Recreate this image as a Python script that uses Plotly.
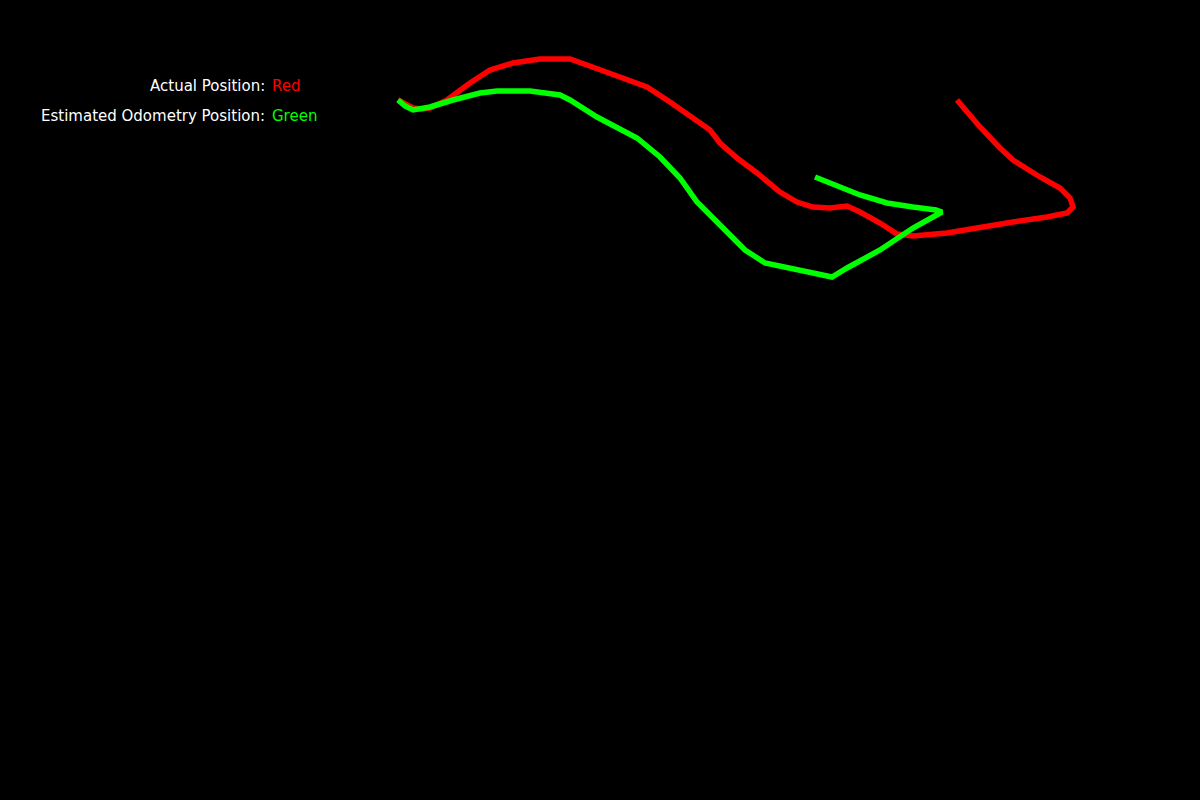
import plotly.graph_objects as go

# Actual position trajectory (red), image coordinates
actual_x = [398, 405, 413, 422, 430, 447, 470, 490, 513, 540, 570, 587, 613, 647, 670, 697, 710, 720,
            737, 757, 780, 797, 813, 830, 847, 860, 880, 897, 913, 947, 980, 1013, 1047, 1067, 1073,
            1070, 1060, 1040, 1013, 1000, 980, 957]
actual_y = [100, 104, 108, 109, 108, 100, 83, 70, 63, 59, 59, 65, 75, 87, 102, 120, 130, 143,
            158, 173, 192, 202, 207, 208, 206, 212, 223, 234, 236, 233, 227, 222, 217, 213, 207,
            198, 188, 177, 160, 148, 127, 100]

# Estimated odometry trajectory (green)
odom_x = [398, 405, 413, 430, 453, 480, 497, 530, 560, 570, 597, 637, 660, 680, 697, 720, 745, 765,
          795, 813, 832, 847, 880, 913, 942, 936, 913, 887, 860, 833, 815]
odom_y = [100, 106, 110, 107, 100, 93, 91, 91, 95, 100, 117, 138, 157, 178, 202, 225, 250, 263,
          270, 273, 277, 268, 250, 228, 212, 210, 207, 203, 195, 185, 177]

labels = ["Actual Position:", "Estimated Odometry Position:"]
label_colors = ["Red", "Green"]
label_hex = ["#ff0000", "#00ff00"]
label_y = [86, 116]

fig = go.Figure()
fig.add_trace(go.Scatter(x=actual_x, y=actual_y, mode="lines",
                         line=dict(color="#ff0000", width=5.5), hoverinfo="skip"))
fig.add_trace(go.Scatter(x=odom_x, y=odom_y, mode="lines",
                         line=dict(color="#00ff00", width=5.5), hoverinfo="skip"))

for txt, ctxt, col, yy in zip(labels, label_colors, label_hex, label_y):
    fig.add_annotation(x=267, y=yy, text=txt, showarrow=False, xanchor="right",
                       yanchor="middle", font=dict(family="DejaVu Sans", size=15, color="white"))
    fig.add_annotation(x=270, y=yy, text=ctxt, showarrow=False, xanchor="left",
                       yanchor="middle", font=dict(family="DejaVu Sans", size=15, color=col))

fig.update_layout(
    width=1200, height=800,
    margin=dict(l=0, r=0, t=0, b=0),
    paper_bgcolor="black", plot_bgcolor="black",
    showlegend=False,
    xaxis=dict(range=[0, 1200], visible=False, fixedrange=True),
    yaxis=dict(range=[800, 0], visible=False, fixedrange=True),
)
fig.write_html("out.html", config={"displayModeBar": False},
               post_script="document.body.style.margin='0';document.body.style.background='black';")
